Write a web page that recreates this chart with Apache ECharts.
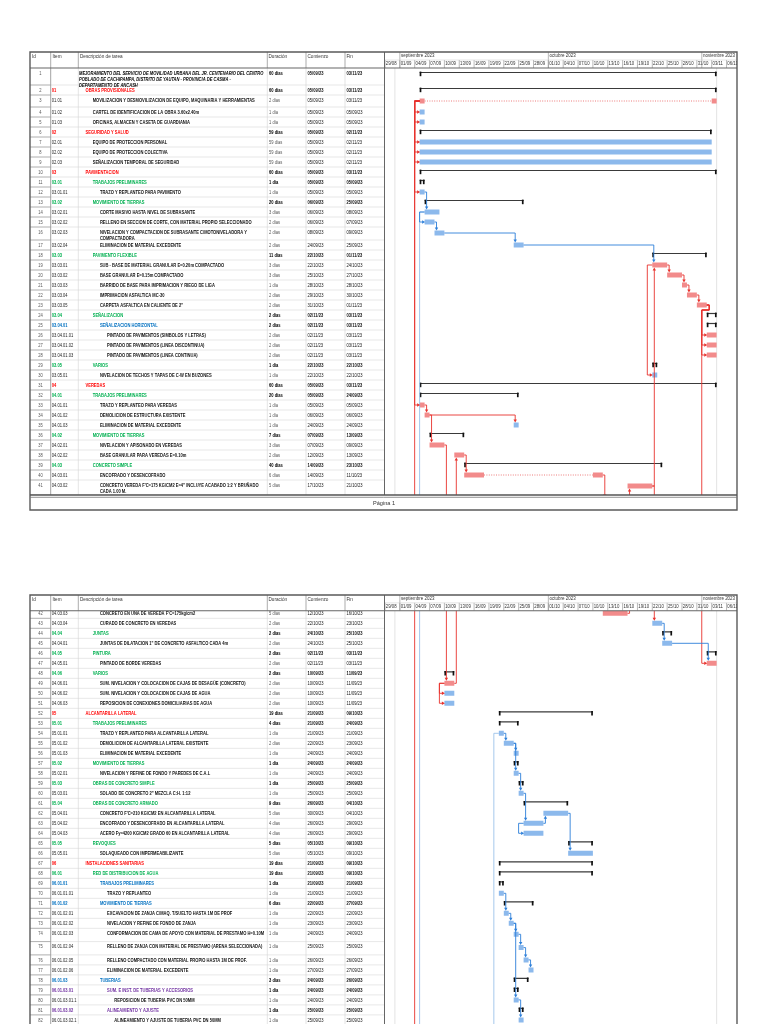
<!DOCTYPE html>
<html>
<head>
<meta charset="utf-8">
<style>html,body{margin:0;padding:0;background:#fff;overflow:hidden}#c{width:768px;height:1100px}</style>
<script src="https://cdn.jsdelivr.net/npm/echarts@6.0.0/dist/echarts.min.js"></script>
</head>
<body>
<div id="c"></div>
<script>
// ---------------- DATA ----------------
const items = ['', '01', '01.01', '01.02', '01.03', '02', '02.01', '02.02', '02.03', '03',
 '03.01', '03.01.01', '03.02', '03.02.01', '03.02.02', '03.02.03', '03.02.04', '03.03', '03.03.01', '03.03.02',
 '03.03.03', '03.03.04', '03.03.05', '03.04', '03.04.01', '03.04.01.01', '03.04.01.02', '03.04.01.03', '03.05', '03.05.01',
 '04', '04.01', '04.01.01', '04.01.02', '04.01.03', '04.02', '04.02.01', '04.02.02', '04.03', '04.03.01',
 '04.03.02', '04.03.03', '04.03.04', '04.04', '04.04.01', '04.05', '04.05.01', '04.06', '04.06.01', '04.06.02',
 '04.06.03', '05', '05.01', '05.01.01', '05.01.02', '05.01.03', '05.02', '05.02.01', '05.03', '05.03.01',
 '05.04', '05.04.01', '05.04.02', '05.04.03', '05.05', '05.05.01', '06', '06.01', '06.01.01', '06.01.01.01',
 '06.01.02', '06.01.02.01', '06.01.02.02', '06.01.02.03', '06.01.02.04', '06.01.02.05', '06.01.02.06', '06.01.03', '06.01.03.01', '06.01.03.01.1',
 '06.01.03.02', '06.01.03.02.1'];

const names = [
 'MEJORAMIENTO DEL SERVICIO DE MOVILIDAD URBANA DEL JR. CENTENARIO DEL CENTRO POBLADO DE CACHIPAMPA, DISTRITO DE YAUTAN - PROVINCIA DE CASMA - DEPARTAMENTO DE ANCASH',
 'OBRAS PROVISIONALES',
 'MOVILIZACION Y DESMOVILIZACION DE EQUIPO, MAQUINARIA Y HERRAMIENTAS',
 'CARTEL DE IDENTIFICACION DE LA OBRA 3.60x2.40m',
 'OFICINAS, ALMACEN Y CASETA DE GUARDIANIA',
 'SEGURIDAD Y SALUD',
 'EQUIPO DE PROTECCION PERSONAL',
 'EQUIPO DE PROTECCION COLECTIVA',
 'SEÑALIZACION TEMPORAL DE SEGURIDAD',
 'PAVIMENTACION',
 'TRABAJOS PRELIMINARES',
 'TRAZO Y REPLANTEO PARA PAVIMENTO',
 'MOVIMIENTO DE TIERRAS',
 'CORTE MASIVO HASTA NIVEL DE SUBRASANTE',
 'RELLENO EN SECCION DE CORTE, CON MATERIAL PROPIO SELECCIONADO',
 'NIVELACION Y COMPACTACION DE SUBRASANTE C/MOTONIVELADORA Y COMPACTADORA',
 'ELIMINACION DE MATERIAL EXCEDENTE',
 'PAVIMENTO FLEXIBLE',
 'SUB - BASE DE MATERIAL GRANULAR E=0.20m COMPACTADO',
 'BASE GRANULAR E=0.15m COMPACTADO',
 'BARRIDO DE BASE PARA IMPRIMACION Y RIEGO DE LIGA',
 'IMPRIMACION ASFALTICA MC-30',
 'CARPETA ASFALTICA EN CALIENTE DE 2"',
 'SEÑALIZACION',
 'SEÑALIZACION HORIZONTAL',
 'PINTADO DE PAVIMENTOS (SIMBOLOS Y LETRAS)',
 'PINTADO DE PAVIMENTOS (LINEA DISCONTINUA)',
 'PINTADO DE PAVIMENTOS (LINEA CONTINUA)',
 'VARIOS',
 'NIVELACION DE TECHOS Y TAPAS DE C-W EN BUZONES',
 'VEREDAS',
 'TRABAJOS PRELIMINARES',
 'TRAZO Y REPLANTEO PARA VEREDAS',
 'DEMOLICION DE ESTRUCTURA EXISTENTE',
 'ELIMINACION DE MATERIAL EXCEDENTE',
 'MOVIMIENTO DE TIERRAS',
 'NIVELACION Y APISONADO EN VEREDAS',
 'BASE GRANULAR PARA VEREDAS E=0.10m',
 'CONCRETO SIMPLE',
 'ENCOFRADO Y DESENCOFRADO',
 'CONCRETO VEREDA F\'C=175 KG/CM2 E=4" INCLUYE ACABADO 1:2 Y BRUÑADO CADA 1.00 M.',
 'CONCRETO EN UÑA DE VEREDA F\'C=175kg/cm2',
 'CURADO DE CONCRETO EN VEREDAS',
 'JUNTAS',
 'JUNTAS DE DILATACION 1" DE CONCRETO ASFALTICO CADA 4m',
 'PINTURA',
 'PINTADO DE BORDE VEREDAS',
 'VARIOS',
 'SUM. NIVELACION Y COLOCACION DE CAJAS DE DESAGÜE (CONCRETO)',
 'SUM. NIVELACION Y COLOCACION DE CAJAS DE AGUA',
 'REPOSICION DE CONEXIONES DOMICILIARIAS DE AGUA',
 'ALCANTARILLA LATERAL',
 'TRABAJOS PRELIMINARES',
 'TRAZO Y REPLANTEO PARA ALCANTARILLA LATERAL',
 'DEMOLICION DE ALCANTARILLA LATERAL EXISTENTE',
 'ELIMINACION DE MATERIAL EXCEDENTE',
 'MOVIMIENTO DE TIERRAS',
 'NIVELACION Y REFINE DE FONDO Y PAREDES DE C.A.L',
 'OBRAS DE CONCRETO SIMPLE',
 'SOLADO DE CONCRETO 2" MEZCLA C:H. 1:12',
 'OBRAS DE CONCRETO ARMADO',
 'CONCRETO F\'C=210 KG/CM2 EN ALCANTARILLA LATERAL',
 'ENCOFRADO Y DESENCOFRADO EN ALCANTARILLA LATERAL',
 'ACERO Fy=4200 KG/CM2 GRADO 60 EN ALCANTARILLA LATERAL',
 'REVOQUES',
 'SOLAQUEADO CON IMPERMEABILIZANTE',
 'INSTALACIONES SANITARIAS',
 'RED DE DISTRIBUCION DE AGUA',
 'TRABAJOS PRELIMINARES',
 'TRAZO Y REPLANTEO',
 'MOVIMIENTO DE TIERRAS',
 'EXCAVACION DE ZANJA C/MAQ. T/SUELTO HASTA 1M DE PROF',
 'NIVELACION Y REFINE DE FONDO DE ZANJA',
 'CONFORMACION DE CAMA DE APOYO CON MATERIAL DE PRESTAMO H=0.10M',
 'RELLENO DE ZANJA CON MATERIAL DE PRESTAMO (ARENA SELECCIONADA)',
 'RELLENO COMPACTADO CON MATERIAL PROPIO HASTA 1M DE PROF.',
 'ELIMINACION DE MATERIAL EXCEDENTE',
 'TUBERIAS',
 'SUM. E INST. DE TUBERIAS Y ACCESORIOS',
 'REPOSICION DE TUBERIA PVC DN 50MM',
 'ALINEAMIENTO Y AJUSTE',
 'ALINEAMIENTO Y AJUSTE DE TUBERIA PVC DN 50MM'];

const durations = [60, 60, 2, 1, 1, 59, 59, 59, 59, 60,
 1, 1, 20, 3, 2, 2, 2, 11, 3, 3,
 1, 2, 2, 2, 2, 2, 2, 2, 1, 1,
 60, 20, 1, 1, 1, 7, 3, 2, 40, 6,
 5, 5, 2, 2, 2, 2, 2, 2, 2, 2,
 2, 19, 4, 1, 2, 1, 1, 1, 1, 1,
 9, 5, 4, 4, 5, 5, 19, 19, 1, 1,
 6, 1, 1, 1, 1, 1, 1, 3, 1, 1,
 1, 1];

const starts = ['05/09/23','05/09/23','05/09/23','05/09/23','05/09/23','05/09/23','05/09/23','05/09/23','05/09/23','05/09/23',
 '05/09/23','05/09/23','06/09/23','06/09/23','06/09/23','08/09/23','24/09/23','22/10/23','22/10/23','25/10/23',
 '28/10/23','29/10/23','31/10/23','02/11/23','02/11/23','02/11/23','02/11/23','02/11/23','22/10/23','22/10/23',
 '05/09/23','05/09/23','05/09/23','06/09/23','24/09/23','07/09/23','07/09/23','12/09/23','14/09/23','14/09/23',
 '17/10/23','12/10/23','22/10/23','24/10/23','24/10/23','02/11/23','02/11/23','10/09/23','10/09/23','10/09/23',
 '10/09/23','21/09/23','21/09/23','21/09/23','22/09/23','24/09/23','24/09/23','24/09/23','25/09/23','25/09/23',
 '26/09/23','30/09/23','26/09/23','26/09/23','05/10/23','05/10/23','21/09/23','21/09/23','21/09/23','21/09/23',
 '22/09/23','22/09/23','23/09/23','24/09/23','25/09/23','26/09/23','27/09/23','24/09/23','24/09/23','24/09/23',
 '25/09/23','25/09/23'];

const ends = ['03/11/23','03/11/23','03/11/23','05/09/23','05/09/23','02/11/23','02/11/23','02/11/23','02/11/23','03/11/23',
 '05/09/23','05/09/23','25/09/23','08/09/23','07/09/23','09/09/23','25/09/23','01/11/23','24/10/23','27/10/23',
 '28/10/23','30/10/23','01/11/23','03/11/23','03/11/23','03/11/23','03/11/23','03/11/23','22/10/23','22/10/23',
 '03/11/23','24/09/23','05/09/23','06/09/23','24/09/23','13/09/23','09/09/23','13/09/23','23/10/23','11/10/23',
 '21/10/23','16/10/23','23/10/23','25/10/23','25/10/23','03/11/23','03/11/23','11/09/23','11/09/23','11/09/23',
 '11/09/23','09/10/23','24/09/23','21/09/23','23/09/23','24/09/23','24/09/23','24/09/23','25/09/23','25/09/23',
 '04/10/23','04/10/23','29/09/23','29/09/23','09/10/23','09/10/23','09/10/23','09/10/23','21/09/23','21/09/23',
 '27/09/23','22/09/23','23/09/23','24/09/23','25/09/23','26/09/23','27/09/23','26/09/23','24/09/23','24/09/23',
 '25/09/23','25/09/23'];

// 1 = critical task (red bar), 0 = non critical
const critical = [0,0,1,0,0,0,0,0,0,0,
 0,0,0,0,0,0,0,0,1,1,
 1,1,1,0,0,1,1,1,0,0,
 0,0,1,1,0,0,1,1,0,1,
 1,1,0,0,0,0,1,0,1,0,
 0,0,0,0,0,0,0,0,0,0,
 0,0,0,0,0,0,0,0,0,0,
 0,0,0,0,0,0,0,0,0,0,
 0,0];

// split tasks: id -> pieces [start, end]
const splitParts = {
 3: [['05/09/23','05/09/23'], ['03/11/23','03/11/23']],
 40: [['14/09/23','17/09/23'], ['10/10/23','11/10/23']]
};

// dependencies [predecessor id, successor id, type]
const links = [
 [3,4,'SS'],[3,5,'SS'],[3,7,'SS'],[3,8,'SS'],[3,9,'SS'],[3,12,'SS'],[3,33,'SS'],
 [12,14,'FS'],[14,15,'SS'],[15,16,'FS'],[16,17,'FS'],[17,19,'FS'],[41,19,'FS'],
 [19,20,'FS'],[20,21,'FS'],[21,22,'FS'],[22,23,'FS'],
 [23,26,'FSX'],[23,27,'FSX'],[23,28,'FSX'],[23,47,'FSX'],
 [19,30,'SS'],
 [33,34,'FS'],[34,35,'FS'],[34,37,'FS'],[37,49,'FS'],[49,38,'FS'],[38,40,'FS'],[40,42,'FS'],[42,41,'FS'],[41,43,'FS'],
 [43,45,'FS'],[45,47,'FS'],[49,50,'SS'],[49,51,'SS'],
 [54,55,'FS'],[55,56,'FS'],[55,58,'FS'],[58,60,'FS'],[60,63,'FS'],[63,64,'SS'],[63,62,'FS'],[62,66,'FS'],
 [70,72,'FS'],[72,73,'FS'],[73,74,'FS'],[74,75,'FS'],[75,76,'FS'],[76,77,'FS'],[73,80,'FS'],[80,82,'FS']
];
// links whose successor lies beyond the printed rows (start-to-start, continue downward)
const offPageLinks = [3, 14, 54];

const dayTickLabels = ['29/08','01/09','04/09','07/09','10/09','13/09','16/09','19/09','22/09','25/09','28/09',
 '01/10','04/10','07/10','10/10','13/10','16/10','19/10','22/10','25/10','28/10','31/10','03/11','06/11'];
const monthLabels = ['septiembre 2023','octubre 2023','noviembre 2023'];
const monthStarts = ['01/09/23','01/10/23','01/11/23'];
const markerDates = ['31/08/23','04/11/23'];
const columnHeaders = ['Id','Item','Descripción de tarea','Duración','Comienzo','Fin'];
const pageLabels = ['Página 1'];

// ---------------- LAYOUT ----------------
const DAY = 86400000;
function parseD(s){ const p = s.split('/').map(Number); return Date.UTC(2000 + (p[2]||23), p[1]-1, p[0]); }
const N = names.length;
const FONT = '"Liberation Sans", Arial, sans-serif';
const FS = 4.9;   // table font size
const SX = 0.83;  // horizontal condensation (narrow font look)
const levels = items.map(s => s ? s.split('.').length : 0);
const isSummary = levels.map((l,i) => i < N-1 && levels[i+1] > l);
const LEVEL_COLORS = ['#000000','#ff0000','#00b050','#0070c0','#7030a0','#000000'];
const RED = '#f28b8b', BLUE = '#8cb9ec', RED_LINK = '#e8322c', BLUE_LINK = '#2d7fd9';

const ROW_UNITS = {1:1.7, 3:1.2, 16:1.3, 41:1.5, 74:1.33, 75:1.33};
const rowTop = []; let acc = 0;
for (let i = 0; i < N; i++){ rowTop.push(acc); acc += ROW_UNITS[i+1] || 1; }
rowTop.push(acc);
const rowH = i => rowTop[i+1] - rowTop[i];
const barMid = i => rowTop[i] + Math.min(rowH(i)/2, 0.6);

const T0 = Date.UTC(2023, 7, 29);
const PX_DAY = 4.95, GANTT_L = 385, GANTT_W = 352;
const T1 = T0 + GANTT_W / PX_DAY * DAY;
const TABLE_L = 30, TABLE_W = 354;
const COL = {id:10.5, item:21.8, desc:49, dur:239, start:277.6, fin:316.6, descEnd:235.3};

const pages = [
 {headTop:52, top:68, height:427, yMin:0},
 {headTop:595, top:610.7, height:479.3, yMin:rowTop[41] + 0.24}
];
pages.forEach(p => p.yMax = p.yMin + p.height / 10);

// word wrapping of descriptions inside their column
const mctx = document.createElement('canvas').getContext('2d');
function wrapText(text, font, maxW){
  mctx.font = font;
  const words = text.split(' ');
  const lines = []; let cur = '';
  words.forEach(w => {
    const t = cur ? cur + ' ' + w : w;
    if (!cur || mctx.measureText(t).width <= maxW) cur = t; else { lines.push(cur); cur = w; }
  });
  lines.push(cur);
  return lines.join('\n');
}
const indentOf = lvl => lvl === 0 ? 0 : 6.5 + (lvl-1) * 7.2;
const wrappedNames = names.map((t, i) => {
  const lvl = levels[i];
  const font = (lvl === 0 ? 'italic ' : '') + 'bold ' + FS + 'px ' + FONT;
  return wrapText(t, font, (COL.descEnd - COL.desc - indentOf(lvl)) / SX);
});

// ---------------- RENDERERS ----------------
function ln(x1,y1,x2,y2,c,w){ return {type:'line', shape:{x1,y1,x2,y2}, style:{stroke:c, lineWidth:w}}; }
function tx(x, y, style){ return {type:'text', x, y, scaleX:SX, style:Object.assign({fontFamily:FONT, fontSize:FS}, style)}; }

function tableRender(params, api){
  const i = api.value(0);
  const x0 = params.coordSys.x;
  const yT = api.coord([0, rowTop[i]])[1];
  const yB = api.coord([0, rowTop[i+1]])[1];
  const lvl = levels[i], sum = isSummary[i];
  const tc = sum ? LEVEL_COLORS[lvl] : '#111';
  const ty = yT + 2.1;
  const base = {verticalAlign:'top', lineHeight:6.4};
  const ind = indentOf(lvl);
  const d = durations[i];
  const ch = [
    ln(x0 + 20.7, yB, x0 + TABLE_W, yB, '#d6d6d6', 0.6),
    ln(x0, yB, x0 + 20.7, yB, '#9a9a9a', 0.8),
    tx(x0 + COL.id, ty, Object.assign({}, base, {text:String(i+1), fill:'#555', align:'center'})),
    tx(x0 + COL.item, ty, Object.assign({}, base, {text:items[i], fill: sum ? tc : '#222', fontWeight: sum ? 'bold' : 'normal', width:27.5/SX, overflow:'truncate', ellipsis:''})),
    tx(x0 + COL.desc + ind, ty, Object.assign({}, base, {text:wrappedNames[i], fill:tc, fontWeight:'bold', fontStyle: lvl === 0 ? 'italic' : 'normal'})),
    tx(x0 + COL.dur, ty, Object.assign({}, base, {text: d + (d === 1 ? ' día' : ' días'), fill: sum ? '#000' : '#555', fontWeight: sum ? 'bold' : 'normal'})),
    tx(x0 + COL.start, ty, Object.assign({}, base, {text:starts[i], fill:'#111', fontWeight: sum ? 'bold' : 'normal'})),
    tx(x0 + COL.fin, ty, Object.assign({}, base, {text:ends[i], fill:'#111', fontWeight: sum ? 'bold' : 'normal'}))
  ];
  return {type:'group', children:ch};
}

function barRender(params, api){
  const i = api.value(0);
  const yc = api.coord([T0, barMid(i)])[1];
  const xs = api.coord([parseD(starts[i]), 0])[0];
  const xe = api.coord([parseD(ends[i]) + DAY, 0])[0];
  const ch = [];
  if (isSummary[i]){
    ch.push(ln(xs, yc - 1.5, xe, yc - 1.5, '#3a3a3a', 1.2));
    ch.push({type:'rect', shape:{x:xs, y:yc - 2.4, width:1.7, height:4.6}, style:{fill:'#111'}});
    ch.push({type:'rect', shape:{x:xe - 1.7, y:yc - 2.4, width:1.7, height:4.6}, style:{fill:'#111'}});
  } else {
    const fill = critical[i] ? RED : BLUE;
    const parts = splitParts[i+1];
    if (parts){
      const segs = parts.map(p => [api.coord([parseD(p[0]),0])[0], api.coord([parseD(p[1]) + DAY,0])[0]]);
      for (let k = 0; k < segs.length - 1; k++){
        ch.push({type:'line', shape:{x1:segs[k][1], y1:yc, x2:segs[k+1][0], y2:yc}, style:{stroke:'#e85c5c', lineWidth:0.8, lineDash:[1,1.4]}});
      }
      segs.forEach(s => ch.push({type:'rect', shape:{x:s[0], y:yc - 2.5, width:s[1] - s[0], height:5}, style:{fill}}));
    } else {
      ch.push({type:'rect', shape:{x:xs, y:yc - 2.5, width:xe - xs, height:5}, style:{fill}});
    }
  }
  return {type:'group', children:ch};
}

const aDown = (x,y) => [[x-1.7,y-3],[x+1.7,y-3],[x,y]];
const aUp = (x,y) => [[x-1.7,y+3],[x+1.7,y+3],[x,y]];
const aRight = (x,y) => [[x-3,y-1.7],[x-3,y+1.7],[x,y]];

function linkRender(params, api){
  const L = links[api.value(0)];
  const pi = L[0]-1, si = L[1]-1, type = L[2];
  const col = critical[pi] ? RED_LINK : BLUE_LINK;
  const yP = api.coord([T0, barMid(pi)])[1];
  const yS = api.coord([T0, barMid(si)])[1];
  const xPs = api.coord([parseD(starts[pi]), 0])[0];
  const xPe = api.coord([parseD(ends[pi]) + DAY, 0])[0];
  const xSs = api.coord([parseD(starts[si]), 0])[0];
  let pts, arrow;
  if (type === 'SS'){
    const vx = xPs - 5;
    pts = [[xPs, yP],[vx, yP],[vx, yS],[xSs - 2, yS]];
    arrow = aRight(xSs + 0.5, yS);
  } else if (type === 'FS'){
    const vx = Math.max(xSs + 1.5, xPe + 2);
    const down = yS > yP;
    const yTip = down ? yS - 2.5 : yS + 2.5;
    pts = [[xPe, yP],[vx, yP],[vx, down ? yTip - 2 : yTip + 2]];
    arrow = down ? aDown(vx, yTip) : aUp(vx, yTip);
  } else {
    const ex = xPe + 2.5;
    const yMid = api.coord([T0, rowTop[pi+1]])[1];
    const vx = xSs - 5;
    pts = [[xPe, yP],[ex, yP],[ex, yMid],[vx, yMid],[vx, yS],[xSs - 2, yS]];
    arrow = aRight(xSs + 0.5, yS);
  }
  return {type:'group', children:[
    {type:'polyline', shape:{points:pts}, style:{stroke:col, lineWidth:0.9, fill:null}},
    {type:'polygon', shape:{points:arrow}, style:{fill:col}}
  ]};
}

function offLinkRender(params, api){
  const pi = offPageLinks[api.value(0)] - 1;
  const col = critical[pi] ? RED_LINK : '#9cc2ea';
  const yP = api.coord([T0, barMid(pi)])[1];
  const xPs = api.coord([parseD(starts[pi]), 0])[0];
  const vx = xPs - 5;
  return {type:'polyline', shape:{points:[[xPs, yP],[vx, yP],[vx, 5000]]}, style:{stroke:col, lineWidth:0.9, fill:null}};
}

function markerRender(params, api){
  const x = api.coord([parseD(markerDates[api.value(0)]), 0])[0];
  const cs = params.coordSys;
  return ln(x, cs.y, x, cs.y + cs.height, '#e4e4e4', 1);
}

function dayTickRender(params, api){
  const lab = dayTickLabels[api.value(0)];
  const x = api.coord([parseD(lab + '/23'), 0])[0];
  const y0 = api.coord([T0, 0.5])[1], y1 = api.coord([T0, 1])[1];
  return {type:'group', children:[
    ln(x, y0, x, y1, '#8a8a8a', 0.6),
    tx(x + 0.8, (y0 + y1)/2, {text:lab, fontSize:5.2, fill:'#333', verticalAlign:'middle'})
  ]};
}

function monthRender(params, api){
  const k = api.value(0);
  const x = api.coord([parseD(monthStarts[k]), 0])[0];
  const y0 = api.coord([T0, 0])[1], y1 = api.coord([T0, 1])[1], ym = api.coord([T0, 0.5])[1];
  return {type:'group', children:[
    ln(x, y0, x, y1, '#8a8a8a', 0.6),
    tx(x + 1.2, (y0 + ym)/2, {text:monthLabels[k], fontSize:5.4, fill:'#333', verticalAlign:'middle'})
  ]};
}

// ---------------- OPTION ----------------
const grid = [], xAxis = [], yAxis = [], series = [];
pages.forEach((p, pg) => {
  const g = grid.length;
  grid.push({left:TABLE_L, top:p.top, width:TABLE_W, height:p.height});
  grid.push({left:GANTT_L, top:p.top, width:GANTT_W, height:p.height});
  grid.push({left:GANTT_L, top:p.headTop, width:GANTT_W, height:p.top - p.headTop});
  xAxis.push({type:'value', gridIndex:g, min:0, max:TABLE_W, show:false});
  xAxis.push({type:'time', gridIndex:g+1, min:T0, max:T1, show:false});
  xAxis.push({type:'time', gridIndex:g+2, min:T0, max:T1, show:false});
  yAxis.push({type:'value', gridIndex:g, min:p.yMin, max:p.yMax, inverse:true, show:false});
  yAxis.push({type:'value', gridIndex:g+1, min:p.yMin, max:p.yMax, inverse:true, show:false});
  yAxis.push({type:'value', gridIndex:g+2, min:0, max:1, inverse:true, show:false});
  const first = pg === 0 ? 0 : 41, last = pg === 0 ? 40 : N - 1;
  const rows = []; for (let i = first; i <= last; i++) rows.push([i, rowTop[i]]);
  const allRows = names.map((_, i) => [i, rowTop[i]]);
  series.push({type:'custom', xAxisIndex:g, yAxisIndex:g, clip:true, renderItem:tableRender, data:rows, silent:true, z:2});
  series.push({type:'custom', xAxisIndex:g+1, yAxisIndex:g+1, clip:true, renderItem:markerRender, data:markerDates.map((_, k) => [k, 0]), silent:true, z:1});
  series.push({type:'custom', xAxisIndex:g+1, yAxisIndex:g+1, clip:true, renderItem:barRender, data:allRows, silent:true, z:3});
  series.push({type:'custom', xAxisIndex:g+1, yAxisIndex:g+1, clip:true, renderItem:offLinkRender, data:offPageLinks.map((_, k) => [k, 0]), silent:true, z:4});
  series.push({type:'custom', xAxisIndex:g+1, yAxisIndex:g+1, clip:true, renderItem:linkRender, data:links.map((_, k) => [k, 0]), silent:true, z:5});
  series.push({type:'custom', xAxisIndex:g+2, yAxisIndex:g+2, clip:true, renderItem:dayTickRender, data:dayTickLabels.map((_, k) => [k, 0]), silent:true, z:6});
  series.push({type:'custom', xAxisIndex:g+2, yAxisIndex:g+2, clip:true, renderItem:monthRender, data:monthLabels.map((_, k) => [k, 0]), silent:true, z:6});
});

// page frames (static decoration)
const gEls = [];
function gl(x1,y1,x2,y2,c,w){ gEls.push({type:'line', shape:{x1,y1,x2,y2}, style:{stroke:c, lineWidth:w}, silent:true, z:100}); }
function gt(x,y,t,opt){ gEls.push({type:'text', x, y, scaleX:SX, silent:true, z:101, style:Object.assign({text:t, fontFamily:FONT, fontSize:5.6, fill:'#333', verticalAlign:'middle'}, opt||{})}); }
pages.forEach((p, pg) => {
  const bodyBottom = pg === 0 ? 495 : 1100;
  const frameBottom = pg === 0 ? 510 : 1100;
  const T = p.headTop, H = p.top;
  const colX = [50.7, 78.3, 267.3, 306, 345];
  colX.forEach((x, k) => { gl(x, T, x, H, '#888', 0.7); gl(x, H, x, bodyBottom, k === 0 ? '#999' : '#d2d2d2', k === 0 ? 0.9 : 0.6); });
  gl(384.5, T, 384.5, bodyBottom, '#666', 1);
  gl(GANTT_L, T + (H - T)/2, 737, T + (H - T)/2, '#c8c8c8', 0.5);
  gl(30, H, 737, H, '#666', 1.1);
  gEls.push({type:'rect', shape:{x:30, y:T, width:707, height:frameBottom - T}, style:{fill:null, stroke:'#5a5a5a', lineWidth:1.4}, silent:true, z:100});
  const hx = [32, 52.5, 80, 268.5, 307.5, 346.5];
  columnHeaders.forEach((h, k) => gt(hx[k], T + 4.3, h));
  if (pg === 0){
    gl(30, 495, 737, 495, '#555', 1.4);
    gl(30, 497.3, 737, 497.3, '#777', 0.8);
    gEls.push({type:'text', x:384, y:503.8, silent:true, z:101, style:{text:pageLabels[0], fontFamily:FONT, fontSize:5.6, fill:'#333', align:'center', verticalAlign:'middle'}});
  }
});

const chart = echarts.init(document.getElementById('c'), null, {renderer:'canvas'});
chart.setOption({animation:false, backgroundColor:'#fff', grid, xAxis, yAxis, series, graphic:{elements:gEls}});
</script>
</body>
</html>
